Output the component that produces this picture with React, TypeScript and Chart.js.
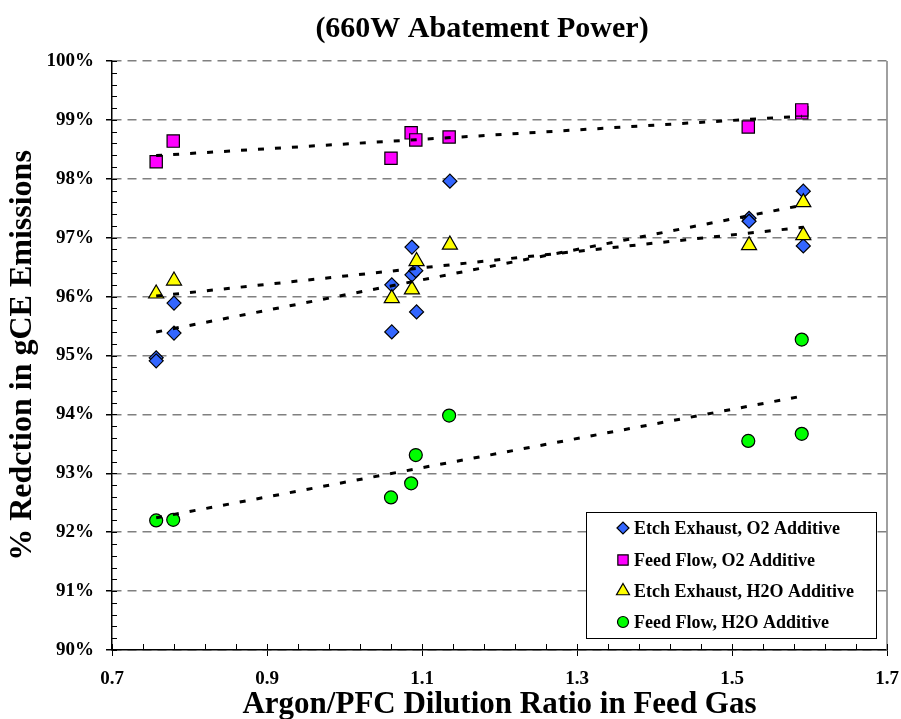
import React, { useEffect, useRef } from 'react';
import { Chart, registerables } from 'chart.js';

Chart.register(...registerables);

const chartTitle = '(660W Abatement Power)';
const xAxisTitle = 'Argon/PFC Dilution Ratio in Feed Gas';
const yAxisTitle = '% Redction in gCE Emissions';

const seriesNames = [
  'Etch Exhaust, O2 Additive',
  'Feed Flow, O2 Additive',
  'Etch Exhaust, H2O Additive',
  'Feed Flow, H2O Additive',
];

const etchO2X = [0.757, 0.757, 0.78, 0.78, 1.061, 1.061, 1.087, 1.087, 1.092, 1.093, 1.136, 1.522, 1.522, 1.592, 1.592];
const etchO2Y = [94.96, 94.91, 95.89, 95.38, 96.2, 95.4, 96.84, 96.37, 96.44, 95.74, 97.96, 97.33, 97.28, 97.79, 96.86];

const feedO2X = [0.757, 0.779, 1.06, 1.086, 1.092, 1.135, 1.521, 1.59, 1.59];
const feedO2Y = [98.29, 98.64, 98.35, 98.78, 98.66, 98.71, 98.88, 99.12, 99.17];

const etchH2OX = [0.757, 0.78, 1.061, 1.087, 1.093, 1.136, 1.522, 1.592, 1.592];
const etchH2OY = [96.05, 96.27, 95.97, 96.12, 96.6, 96.88, 96.87, 97.6, 97.04];

const feedH2OX = [0.757, 0.779, 1.06, 1.086, 1.092, 1.135, 1.521, 1.59, 1.59];
const feedH2OY = [92.2, 92.21, 92.59, 92.83, 93.31, 93.98, 93.55, 93.67, 95.27];

const xTickValues = [0.7, 0.9, 1.1, 1.3, 1.5, 1.7];
const xTickLabels = ['0.7', '0.9', '1.1', '1.3', '1.5', '1.7'];
const yTickValues = [90, 91, 92, 93, 94, 95, 96, 97, 98, 99, 100];
const yTickLabels = ['90%', '91%', '92%', '93%', '94%', '95%', '96%', '97%', '98%', '99%', '100%'];

const FONT = "'Liberation Serif', 'Times New Roman', serif";

const markerStyles = [
  { style: 'rectRot', color: '#3366FF', r: 7, lr: 6 },
  { style: 'rect', color: '#FF00FF', r: 8.7, lr: 7.3 },
  { style: 'triangle', color: '#FFFF00', r: 8.7, lr: 7.5 },
  { style: 'circle', color: '#00FF00', r: 6.5, lr: 5.5 },
];

function toPoints(xs: number[], ys: number[]) {
  return xs.map((x, i) => ({ x, y: ys[i] }));
}

function trend(xs: number[], ys: number[]) {
  const n = xs.length;
  const mx = xs.reduce((a, b) => a + b, 0) / n;
  const my = ys.reduce((a, b) => a + b, 0) / n;
  let sxy = 0;
  let sxx = 0;
  for (let i = 0; i < n; i++) {
    sxy += (xs[i] - mx) * (ys[i] - my);
    sxx += (xs[i] - mx) * (xs[i] - mx);
  }
  const b = sxy / sxx;
  const a = my - b * mx;
  const x0 = Math.min(...xs);
  const x1 = Math.max(...xs);
  return [{ x: x0, y: a + b * x0 }, { x: x1, y: a + b * x1 }];
}

function drawMarker(ctx: CanvasRenderingContext2D, style: string, x: number, y: number, r: number, fill: string) {
  ctx.beginPath();
  if (style === 'rectRot') {
    ctx.moveTo(x - r, y);
    ctx.lineTo(x, y - r);
    ctx.lineTo(x + r, y);
    ctx.lineTo(x, y + r);
    ctx.closePath();
  } else if (style === 'rect') {
    const s = r * Math.SQRT1_2;
    ctx.rect(x - s, y - s, 2 * s, 2 * s);
  } else if (style === 'triangle') {
    ctx.moveTo(x, y - r);
    ctx.lineTo(x + r * Math.sin(Math.PI / 3), y + r * 0.5);
    ctx.lineTo(x - r * Math.sin(Math.PI / 3), y + r * 0.5);
    ctx.closePath();
  } else {
    ctx.arc(x, y, r, 0, Math.PI * 2);
  }
  ctx.fillStyle = fill;
  ctx.fill();
  ctx.strokeStyle = '#000';
  ctx.lineWidth = 1.2;
  ctx.stroke();
}

const framePlugin = {
  id: 'frame',
  beforeDatasetsDraw(chart: any) {
    const { ctx, chartArea } = chart;
    ctx.save();
    ctx.strokeStyle = '#808080';
    ctx.lineWidth = 1.5;
    ctx.beginPath();
    ctx.moveTo(chartArea.right, chartArea.top);
    ctx.lineTo(chartArea.right, chartArea.bottom);
    ctx.stroke();
    ctx.restore();
  },
  afterDraw(chart: any) {
    const { ctx, chartArea, scales } = chart;
    const xs = scales.x;
    const ys = scales.y;
    ctx.save();
    ctx.strokeStyle = '#000';
    ctx.lineWidth = 1;
    for (let k = 0; k <= 50; k++) {
      const v = 90 + k * 0.2;
      const py = Math.round(ys.getPixelForValue(v)) + 0.5;
      ctx.beginPath();
      ctx.moveTo(chartArea.left, py);
      ctx.lineTo(chartArea.left + 5, py);
      ctx.stroke();
    }
    for (let k = 0; k <= 25; k++) {
      const v = 0.7 + k * 0.04;
      const px = Math.round(xs.getPixelForValue(v)) + 0.5;
      ctx.beginPath();
      ctx.moveTo(px, chartArea.bottom);
      ctx.lineTo(px, chartArea.bottom - 6);
      ctx.stroke();
    }
    // legend
    const w = 290;
    const h = 126;
    const x0 = chartArea.right - 11 - w;
    const y0 = chartArea.bottom - 12 - h;
    ctx.fillStyle = '#fff';
    ctx.fillRect(x0, y0, w, h);
    ctx.strokeStyle = '#000';
    ctx.lineWidth = 1;
    ctx.strokeRect(x0 + 0.5, y0 + 0.5, w, h);
    const rows = [16, 48, 79, 110];
    ctx.font = `bold 18px ${FONT}`;
    ctx.textBaseline = 'middle';
    ctx.textAlign = 'left';
    seriesNames.forEach((name, i) => {
      const m = markerStyles[i];
      drawMarker(ctx, m.style, x0 + 37, y0 + rows[i], m.lr, m.color);
      ctx.fillStyle = '#000';
      ctx.fillText(name, x0 + 48, y0 + rows[i] + 1);
    });
    // title
    ctx.font = `bold 30px ${FONT}`;
    ctx.textAlign = 'center';
    ctx.fillStyle = '#000';
    ctx.fillText(chartTitle, 482, 29);
    ctx.restore();
  },
};

export default function App() {
  const canvasRef = useRef<HTMLCanvasElement | null>(null);

  useEffect(() => {
    const canvas = canvasRef.current;
    if (!canvas) return;
    const series = [
      [etchO2X, etchO2Y],
      [feedO2X, feedO2Y],
      [etchH2OX, etchH2OY],
      [feedH2OX, feedH2OY],
    ];
    const scatterSets = series.map(([xs, ys], i) => ({
      type: 'scatter' as const,
      label: seriesNames[i],
      data: toPoints(xs, ys),
      pointStyle: markerStyles[i].style,
      pointRadius: markerStyles[i].r,
      pointBackgroundColor: markerStyles[i].color,
      pointBorderColor: '#000',
      pointBorderWidth: 1.2,
      showLine: false,
      order: 4 - i,
    }));
    const trendSets = series.map(([xs, ys], i) => ({
      type: 'line' as const,
      label: 'trend ' + seriesNames[i],
      data: trend(xs, ys),
      borderColor: '#000',
      borderWidth: 3,
      borderDash: [6, 11],
      pointRadius: 0,
      fill: false,
      showLine: true,
      order: 0,
    }));

    const chart = new Chart(canvas, {
      type: 'scatter',
      data: { datasets: [...scatterSets, ...trendSets] as any },
      options: {
        animation: false,
        responsive: false,
        layout: { padding: { top: 61, right: 14, left: 0, bottom: 0 } },
        plugins: {
          legend: { display: false },
          tooltip: { enabled: false },
          title: { display: false },
        },
        scales: {
          x: {
            type: 'linear',
            min: 0.7,
            max: 1.7,
            afterFit: (scale: any) => {
              scale.height = 69;
              scale.paddingLeft = 0;
              scale.paddingRight = 0;
            },
            afterBuildTicks: (scale: any) => {
              scale.ticks = xTickValues.map((value) => ({ value }));
            },
            ticks: {
              autoSkip: false,
              maxRotation: 0,
              padding: 12,
              color: '#000',
              font: { family: FONT, size: 19, weight: 'bold' },
              callback: (_v: any, i: number) => xTickLabels[i],
            },
            grid: {
              display: true,
              drawOnChartArea: false,
              drawTicks: true,
              tickLength: 6,
              tickColor: '#000',
              lineWidth: 1,
            },
            border: { display: true, color: '#000', width: 1.5 },
            title: {
              display: true,
              text: xAxisTitle,
              color: '#000',
              font: { family: FONT, size: 31, weight: 'bold', lineHeight: 1 },
              padding: { top: 0, bottom: -1 },
            },
          },
          y: {
            type: 'linear',
            min: 90,
            max: 100,
            afterFit: (scale: any) => {
              scale.width = 112;
              scale.paddingTop = 0;
              scale.paddingBottom = 0;
            },
            afterBuildTicks: (scale: any) => {
              scale.ticks = yTickValues.map((value) => ({ value }));
            },
            ticks: {
              autoSkip: false,
              padding: 12,
              color: '#000',
              font: { family: FONT, size: 19, weight: 'bold' },
              callback: (_v: any, i: number) => yTickLabels[i],
            },
            grid: {
              display: true,
              drawOnChartArea: true,
              drawTicks: true,
              tickLength: 6,
              tickColor: '#000',
              color: '#808080',
              lineWidth: 1.5,
            },
            border: { display: true, color: '#000', width: 1.5, dash: [9, 6] },
            title: {
              display: true,
              text: yAxisTitle,
              color: '#000',
              font: { family: FONT, size: 32, weight: 'bold', lineHeight: 1 },
              padding: { top: 7, bottom: 0 },
            },
          },
        },
      },
      plugins: [framePlugin],
    });
    return () => chart.destroy();
  }, []);

  return (
    <div style={{ position: 'absolute', left: 0, top: 0, width: 901, height: 719 }}>
      <canvas ref={canvasRef} width={901} height={719} />
    </div>
  );
}
